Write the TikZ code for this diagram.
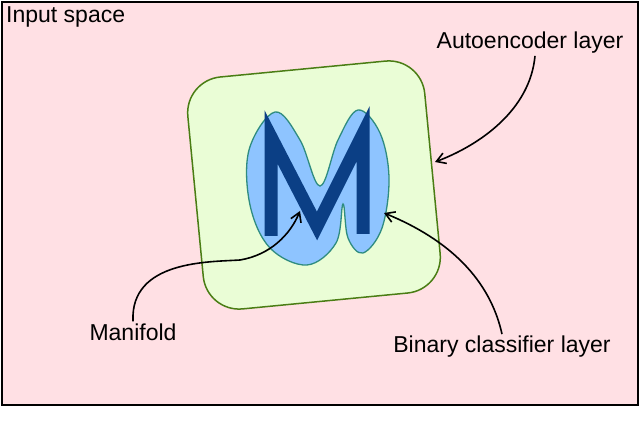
\documentclass[tikz,border=0pt]{standalone}
\usepackage{fontspec}
\setmainfont{Liberation Sans}
\usetikzlibrary{arrows.meta}
\definecolor{bgpink}{HTML}{FFE0E4}
\definecolor{aegreen}{HTML}{EAFDD6}
\definecolor{aeline}{HTML}{4A7D14}
\definecolor{blobfill}{HTML}{8EC4FF}
\definecolor{blobline}{HTML}{2F8C80}
\definecolor{mblue}{HTML}{0B3F85}
\tikzset{
  lbl/.style={font=\fontsize{23}{27}\selectfont, inner sep=0pt},
  pointer/.style={black, line width=1.6pt, -{Straight Barb[length=9pt,width=11pt,line width=1.6pt]}}
}
\begin{document}
\begin{tikzpicture}[x=1pt,y=-1pt]
\useasboundingbox (0,0) rectangle (640,427);
\node[draw=black, line width=1.8pt, fill=bgpink, minimum width=636pt, minimum height=403pt, anchor=north west, inner sep=0pt] (space) at (1,1) {};
\node[lbl, anchor=west] (inp) at (6,17) {Input space};
\node[draw=aeline, line width=1.5pt, fill=aegreen, minimum width=238pt, minimum height=233pt, rounded corners=36pt, rotate=5.5] (ae) at (314,185) {};
\draw[fill=blobfill, draw=blobline, line width=1.3pt] plot[smooth cycle, tension=0.6] coordinates {
 (275,112) (300,140) (320,186) (338,140) (358,110) (380,133) (389,178) (382,228) (363,253) (348,238) (343,204) (336,243) (307,265) (270,248) (250,205) (249,150)};
\draw[mblue, line width=13pt, miter limit=10] (271,236) -- (271,137) -- (317,226) -- (363,134) -- (363,234);
\node[lbl] (ael) at (530,43) {Autoencoder layer};
\node[lbl] (man) at (133,332) {Manifold};
\node[lbl] (bcl) at (502,347) {Binary classifier layer};
\coordinate (aetip) at (435,162);
\coordinate (mtip) at (300,211);
\coordinate (btip) at (384,213);
\draw[pointer] (ael.south) ++(5,2) .. controls (530,110) and (480,145) .. (aetip);
\draw[pointer] (man.north) ++(0,-2) .. controls (130,260) and (210,262) .. (240,260) .. controls (270,255) and (290,235) .. (mtip);
\draw[pointer] (bcl.north) ++(0,-2) .. controls (490,280) and (450,240) .. (btip);
\end{tikzpicture}
\end{document}
